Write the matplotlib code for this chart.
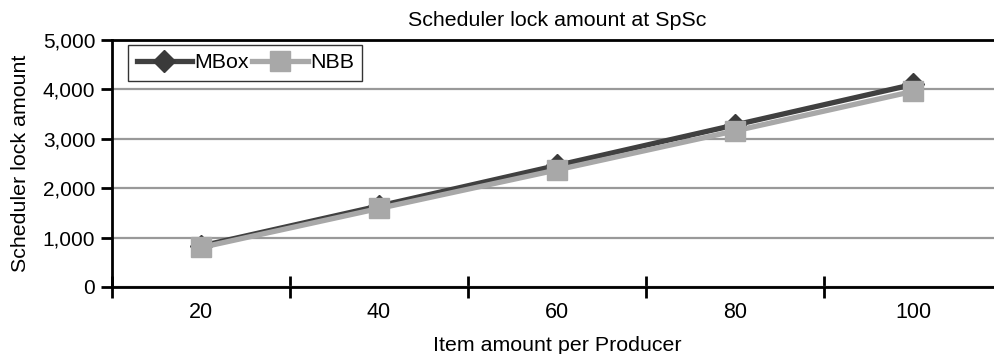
import matplotlib.pyplot as plt

plt.rcParams['font.family'] = ['Liberation Sans', 'DejaVu Sans']

items = ["20", "40", "60", "80", "100"]
mbox = [830, 1640, 2460, 3280, 4100]
nbb = [800, 1590, 2370, 3160, 3960]

fig = plt.figure(figsize=(9.95, 3.54), dpi=100)
ax = fig.add_axes([112 / 995, 1 - 287 / 354, 890 / 995, 247 / 354])

x = list(range(len(items)))
ax.plot(x, mbox, color="#404040", lw=3.8, marker="D", ms=11,
        mfc="#3a3a3a", mec="#3a3a3a", label="MBox", zorder=3)
ax.plot(x, nbb, color="#a8a8a8", lw=3.8, marker="s", ms=15,
        mfc="#a8a8a8", mec="#a8a8a8", label="NBB", zorder=4)

ax.set_xlim(-0.5, len(items) - 0.5)
ax.set_ylim(0, 5000)
ax.set_yticks(range(0, 5001, 1000))
ax.set_yticklabels([f"{v:,}" for v in range(0, 5001, 1000)])
ax.set_xticks(x)
ax.set_xticklabels(items)
ax.tick_params(axis="x", length=0, labelsize=15.5, pad=11)
ax.set_xticks([i - 0.5 for i in range(len(items) + 1)], minor=True)
ax.tick_params(axis="x", which="minor", direction="inout", length=16, width=2)
ax.tick_params(axis="y", direction="out", length=8, width=2, labelsize=15, pad=4)

ax.grid(axis="y", color="#999999", lw=1.6)
ax.set_axisbelow(True)
for s in ["left", "bottom", "top"]:
    ax.spines[s].set_linewidth(2)
    ax.spines[s].set_color("black")
ax.spines["right"].set_visible(False)

ax.set_title("Scheduler lock amount at SpSc", fontsize=15.4, pad=10)
ax.set_xlabel("Item amount per Producer", fontsize=15.4, labelpad=9)
ax.set_ylabel("Scheduler lock amount", fontsize=15.4, labelpad=9)

leg = ax.legend(loc="upper left", bbox_to_anchor=(0.018, 0.98), ncol=2,
                frameon=True, fancybox=False, fontsize=15.4, handlelength=2.6,
                columnspacing=0.15, handletextpad=0.1, borderpad=0.4,
                borderaxespad=0)
leg.get_frame().set_edgecolor("black")
leg.get_frame().set_linewidth(1)

fig.savefig("out.png", dpi=100)
